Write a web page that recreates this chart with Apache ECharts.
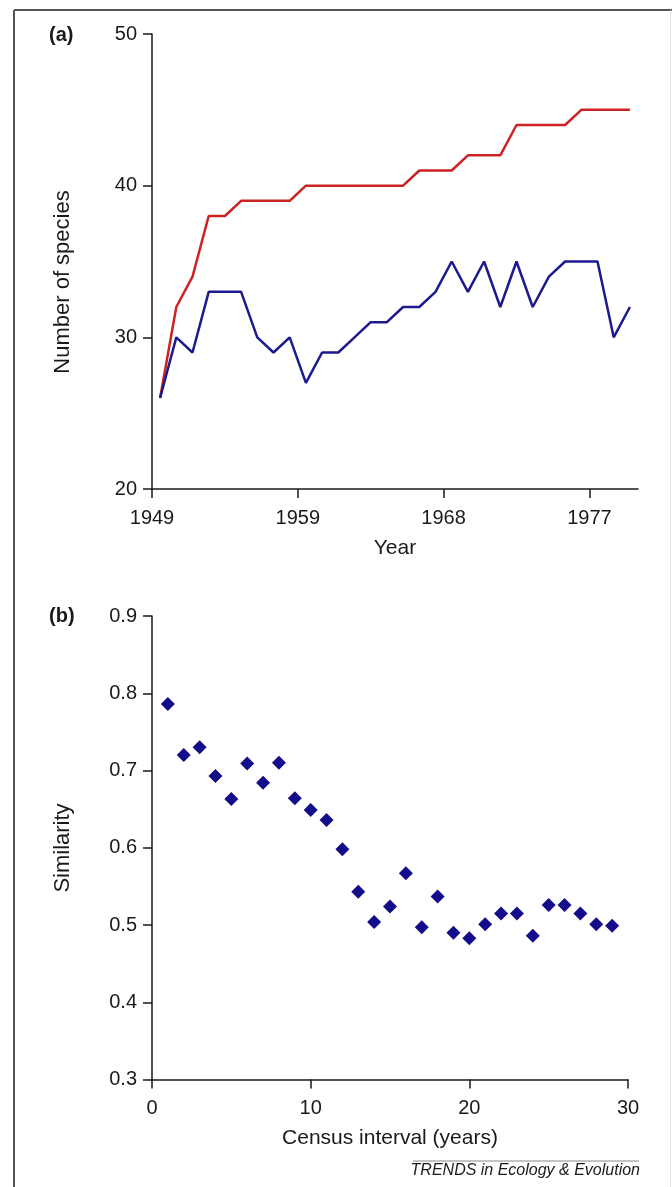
<!DOCTYPE html>
<html><head><meta charset="utf-8">
<script src="https://cdn.jsdelivr.net/npm/echarts@6/dist/echarts.min.js"></script>
<style>html,body{margin:0;padding:0;background:#fff}#c{width:672px;height:1187px}</style>
</head><body><div id="c"></div>
<script>
// Panel (a): species counts per census (census number 1..30)
const censusIndex = [1,2,3,4,5,6,7,8,9,10,11,12,13,14,15,16,17,18,19,20,21,22,23,24,25,26,27,28,29,30];
const cumulativeSpecies = [26,32,34,38,38,39,39,39,39,40,40,40,40,40,40,40,41,41,41,42,42,42,44,44,44,44,45,45,45,45];
const censusSpecies = [26,30,29,33,33,33,30,29,30,27,29,29,30,31,31,32,32,33,35,33,35,32,35,32,34,35,35,35,30,32];
const yearTickPositions = [0.5, 9.5, 18.5, 27.5];
const yearTickLabels = ['1949','1959','1968','1977'];
// Panel (b): similarity vs census interval
const intervalYears = [1,2,3,4,5,6,7,8,9,10,11,12,13,14,15,16,17,18,19,20,21,22,23,24,25,26,27,28,29];
const similarity = [0.786,0.720,0.730,0.693,0.663,0.709,0.684,0.710,0.664,0.649,0.636,0.598,0.543,0.504,0.524,0.567,0.497,0.537,0.490,0.483,0.501,0.515,0.515,0.486,0.526,0.526,0.515,0.501,0.499];

const FONT = 'Liberation Sans, Arial, Helvetica, sans-serif';
const TXT = '#1a1a1a';
const AX = {color:'#1a1a1a', width:1.5};

const chart = echarts.init(document.getElementById('c'), null, {renderer:'canvas'});
const option = {
  backgroundColor:'#fff',
  animation:false,
  grid:[
    {left:152, right:34, top:34, height:455},
    {left:152, right:44, top:616, height:463.5}
  ],
  xAxis:[
    {gridIndex:0, type:'value', min:0.5, max:30.5,
     axisLine:{show:true, onZero:false, lineStyle:AX},
     axisTick:{show:true, customValues:yearTickPositions, length:9, lineStyle:AX},
     axisLabel:{customValues:yearTickPositions, margin:19, fontSize:20, fontFamily:FONT, color:TXT,
       formatter:function(v){let b=0;for(let i=0;i<yearTickPositions.length;i++){if(Math.abs(yearTickPositions[i]-v)<Math.abs(yearTickPositions[b]-v))b=i;}return yearTickLabels[b];}},
     splitLine:{show:false},
     name:'Year', nameLocation:'middle', nameGap:49,
     nameTextStyle:{fontSize:21, fontFamily:FONT, color:TXT}},
    {gridIndex:1, type:'value', min:0, max:30, interval:10,
     axisLine:{show:true, onZero:false, lineStyle:AX},
     axisTick:{show:true, length:9, lineStyle:AX},
     axisLabel:{margin:19, fontSize:20, fontFamily:FONT, color:TXT},
     splitLine:{show:false},
     name:'Census interval (years)', nameLocation:'middle', nameGap:48,
     nameTextStyle:{fontSize:21, fontFamily:FONT, color:TXT}}
  ],
  yAxis:[
    {gridIndex:0, type:'value', min:20, max:50, interval:10,
     axisLine:{show:true, onZero:false, lineStyle:AX},
     axisTick:{show:true, length:9, lineStyle:AX},
     axisLabel:{margin:15, fontSize:20, fontFamily:FONT, color:TXT},
     splitLine:{show:false}},
    {gridIndex:1, type:'value', min:0.3, max:0.9, interval:0.1,
     axisLine:{show:true, onZero:false, lineStyle:AX},
     axisTick:{show:true, length:9, lineStyle:AX},
     axisLabel:{margin:15, fontSize:20, fontFamily:FONT, color:TXT, formatter:function(v){return v.toFixed(1);}},
     splitLine:{show:false}}
  ],
  series:[
    {type:'line', xAxisIndex:0, yAxisIndex:0, showSymbol:false, clip:false,
     data:censusIndex.map((c,i)=>[c, cumulativeSpecies[i]]),
     lineStyle:{color:'#cc2222', width:2.5}, itemStyle:{color:'#cc2222'}},
    {type:'line', xAxisIndex:0, yAxisIndex:0, showSymbol:false, clip:false,
     data:censusIndex.map((c,i)=>[c, censusSpecies[i]]),
     lineStyle:{color:'#1c1a8c', width:2.5}, itemStyle:{color:'#1c1a8c'}},
    {type:'scatter', xAxisIndex:1, yAxisIndex:1, symbol:'diamond', symbolSize:14,
     data:intervalYears.map((c,i)=>[c, similarity[i]]),
     itemStyle:{color:'#140c8a', opacity:1}}
  ],
  graphic:[
    {type:'line', shape:{x1:14, y1:10, x2:672, y2:10}, style:{stroke:'#555', lineWidth:2}},
    {type:'line', shape:{x1:14, y1:10, x2:14, y2:1187}, style:{stroke:'#555', lineWidth:2}},
    {type:'line', shape:{x1:670.5, y1:10, x2:670.5, y2:1187}, style:{stroke:'#e4e4e4', lineWidth:1}},
    {type:'text', left:49, top:25, style:{text:'(a)', font:'bold 20px '+FONT, fill:TXT}},
    {type:'text', left:49, top:606, style:{text:'(b)', font:'bold 20px '+FONT, fill:TXT}},
    {type:'text', x:63, y:282, rotation:Math.PI/2,
     style:{text:'Number of species', font:'22px '+FONT, fill:TXT, align:'center', verticalAlign:'middle'}},
    {type:'text', x:63, y:848, rotation:Math.PI/2,
     style:{text:'Similarity', font:'22px '+FONT, fill:TXT, align:'center', verticalAlign:'middle'}},
    {type:'line', shape:{x1:413, y1:1161, x2:639, y2:1161}, style:{stroke:'#888', lineWidth:1}},
    {type:'text', right:32, top:1163, style:{text:'TRENDS in Ecology & Evolution', font:'italic 16px '+FONT, fill:TXT, textAlign:'right'}}
  ]
};
chart.setOption(option);
</script>
</body></html>
